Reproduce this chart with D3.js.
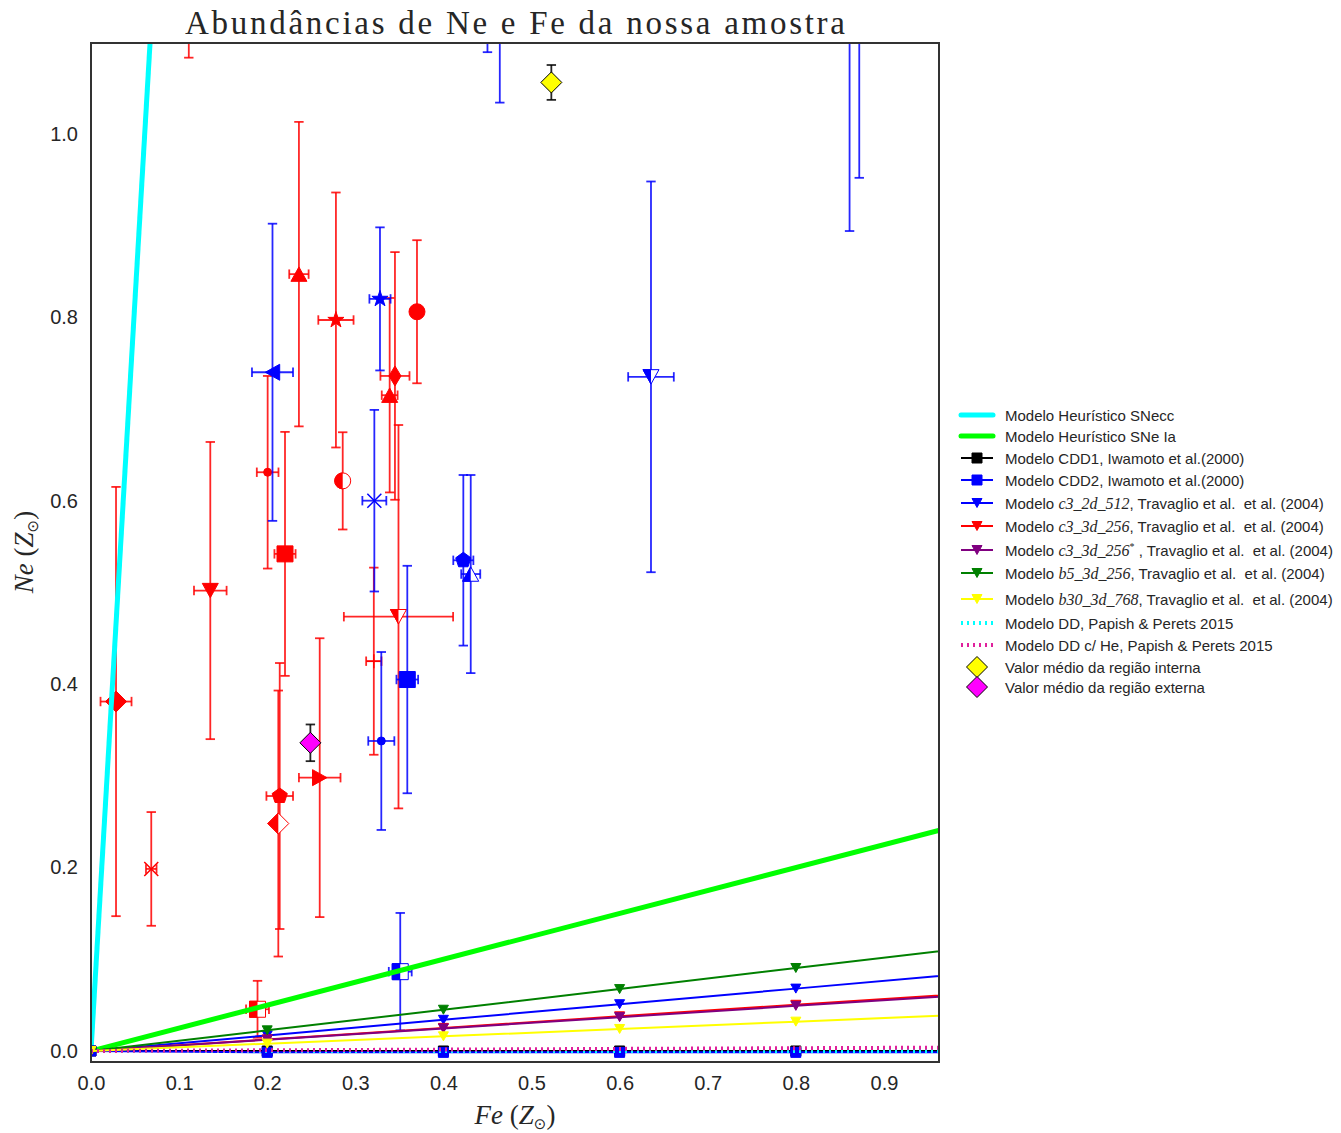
<!DOCTYPE html>
<html>
<head>
<meta charset="utf-8">
<script src="https://cdn.jsdelivr.net/npm/d3@7"></script>
<style>
  body { margin: 0; background: #fff; }
  text { white-space: pre; }
</style>
</head>
<body>
<svg></svg>
<script>
// ---- data ----
const xTicks = [0.0, 0.1, 0.2, 0.3, 0.4, 0.5, 0.6, 0.7, 0.8, 0.9];
const yTicks = [0.0, 0.2, 0.4, 0.6, 0.8, 1.0];

// red sample points
const redFe    = [0.111, 0.236, 0.278, 0.370, 0.345, 0.339, 0.349, 0.2005, 0.2857, 0.2202, 0.1354, 0.0284, 0.0684, 0.2142, 0.2126, 0.2596, 0.189, 0.321];
const redFeErr = [0, 0.011, 0.020, 0, 0.0165, 0.009, 0.062, 0.0123, 0.003, 0.012, 0.0185, 0.0176, 0.006, 0.0151, 0, 0.0236, 0.013, 0.0087];
const redNe    = [1.25, 0.847, 0.797, 0.806, 0.736, 0.715, 0.4735, 0.631, 0.6216, 0.542, 0.502, 0.381, 0.1985, 0.278, 0.248, 0.298, 0.0455, 0.425];
const redNeErr = [0.167, 0.166, 0.139, 0.078, 0.135, 0.106, 0.209, 0.105, 0.053, 0.133, 0.162, 0.234, 0.062, 0.145, 0.145, 0.152, 0.031, 0.102];
const redMarkers = ["h", "^", "*", "o", "d", "^", "v", ".", "o", "s", "v", "D", "x", "p", "D", ">", "s", "+"];
const redFills   = ["full", "full", "full", "full", "full", "full", "left", "full", "left", "full", "full", "full", "full", "full", "left", "full", "left", "full"];

// blue sample points
const blueFe    = [0.45, 0.464, 0.861, 0.872, 0.206, 0.328, 0.3216, 0.4226, 0.431, 0.359, 0.3295, 0.6356, 0.351];
const blueFeErr = [0, 0, 0, 0, 0.0233, 0.012, 0.0136, 0.0114, 0.0108, 0.0123, 0.0148, 0.0259, 0.013];
const blueNe    = [1.25, 1.35, 1.35, 1.30, 0.740, 0.820, 0.600, 0.535, 0.520, 0.405, 0.338, 0.735, 0.0865];
const blueNeErr = [0.161, 0.316, 0.456, 0.348, 0.162, 0.078, 0.099, 0.093, 0.108, 0.124, 0.097, 0.213, 0.064];
const blueMarkers = ["o", "s", "^", "v", "<", "*", "x", "p", "^", "s", ".", "v", "s"];
const blueFills   = ["full", "full", "full", "full", "full", "full", "full", "full", "left", "full", "full", "left", "left"];

// mean values (inner / outer region)
const meanFe    = [0.5225, 0.249];
const meanNe    = [1.056, 0.336];
const meanNeErr = [0.019, 0.020];

// models
const modelFe = [0.0, 0.2, 0.4, 0.6, 0.8, 1.0];
const cdd1Ne  = [0.0, 0.0, 0.0, 0.0, 0.0, 0.0];
const cdd2Ne  = [0.0, -0.0015, -0.0015, -0.0015, -0.0015, -0.0015];
const c3_2d_512Ne  = [0.0, 0.017, 0.034, 0.051, 0.068, 0.085];
const c3_3d_256Ne  = [0.0, 0.0126, 0.0252, 0.0378, 0.0504, 0.063];
const c3_3d_256sNe = [0.0, 0.0123, 0.0246, 0.0369, 0.0492, 0.0615];
const b5_3d_256Ne  = [0.0, 0.0225, 0.045, 0.0675, 0.0905, 0.113];
const b30_3d_768Ne = [0.0, 0.008, 0.016, 0.024, 0.032, 0.040];

const sneccFe = [0.0, 0.1];
const sneccNe = [0.0, 1.64];
const sniaFe  = [0.0, 1.0];
const sniaNe  = [0.0, 0.25];
const papishFe  = [0.0, 1.0];
const ddNe      = [0.0, 0.0];
const ddHeNe    = [0.0, 0.0038];

// ---- layout ----
const width = 1341, height = 1133;
const svg = d3.select("svg").attr("width", width).attr("height", height);
const plot = {left: 91, right: 939, top: 43, bottom: 1062};

const x = d3.scaleLinear().domain([0, 0.9625]).range([plot.left, plot.right]);
const y = d3.scaleLinear().domain([-0.012, 1.099]).range([plot.bottom, plot.top]);

const defs = svg.append("defs");
defs.append("clipPath").attr("id", "plotClip")
    .append("rect")
    .attr("x", plot.left).attr("y", plot.top)
    .attr("width", plot.right - plot.left).attr("height", plot.bottom - plot.top);
defs.append("clipPath").attr("id", "leftHalf")
    .append("rect").attr("x", -40).attr("y", -40).attr("width", 40).attr("height", 80);

// marker shapes, roughly matplotlib's
const markerSize = {"o": 16, ".": 8, "s": 16, "^": 16, "v": 16, "<": 16, ">": 16,
                    "D": 21, "d": 20, "p": 16, "*": 17, "x": 14, "+": 14, "h": 16};

function markerPath(m, s) {
    const r = s / 2;
    const tri = (angle) => {
        const h = s * 0.9 / 2, w = s / 2;
        const pts = [[0, -h], [w, h], [-w, h]].map(([px, py]) => {
            const c = Math.cos(angle), sn = Math.sin(angle);
            return [px * c - py * sn, px * sn + py * c];
        });
        return "M" + pts.map(p => p.join(",")).join("L") + "Z";
    };
    const poly = (n, rad, rot) => {
        const pts = d3.range(n).map(i => {
            const a = rot + i * 2 * Math.PI / n;
            return [rad * Math.sin(a), -rad * Math.cos(a)];
        });
        return "M" + pts.map(p => p.join(",")).join("L") + "Z";
    };
    switch (m) {
        case "o": case ".": case "h":
            return `M${r},0A${r},${r} 0 1,1 ${-r},0A${r},${r} 0 1,1 ${r},0Z`;
        case "s": return `M${-r},${-r}H${r}V${r}H${-r}Z`;
        case "^": return tri(0);
        case "v": return tri(Math.PI);
        case "<": return tri(-Math.PI / 2);
        case ">": return tri(Math.PI / 2);
        case "D": return `M0,${-r}L${r},0L0,${r}L${-r},0Z`;
        case "d": return `M0,${-r}L${r * 0.6},0L0,${r}L${-r * 0.6},0Z`;
        case "p": return poly(5, r, 0);
        case "*": {
            const pts = d3.range(10).map(i => {
                const rad = i % 2 === 0 ? r : r * 0.382;
                const a = i * Math.PI / 5;
                return [rad * Math.sin(a), -rad * Math.cos(a)];
            });
            return "M" + pts.map(p => p.join(",")).join("L") + "Z";
        }
        case "x": return `M${-r},${-r}L${r},${r}M${-r},${r}L${r},${-r}`;
        case "+": return `M${-r},0H${r}M0,${-r}V${r}`;
    }
}

function drawMarker(g, m, fill, color, size, edge) {
    const s = size || markerSize[m];
    const d = markerPath(m, s);
    if (m === "x" || m === "+") {
        g.append("path").attr("d", d).attr("fill", "none")
            .attr("stroke", color).attr("stroke-width", 1.5);
        return;
    }
    if (fill === "left") {
        g.append("path").attr("d", d).attr("fill", "#fff")
            .attr("stroke", color).attr("stroke-width", 1);
        g.append("path").attr("d", d).attr("fill", color)
            .attr("stroke", color).attr("stroke-width", 1)
            .attr("clip-path", "url(#leftHalf)");
    } else {
        g.append("path").attr("d", d).attr("fill", color)
            .attr("stroke", edge || color).attr("stroke-width", 1);
    }
}

function drawErrorPoint(layer, fe, feErr, ne, neErr, m, fill, color, barColor, edge) {
    const cap = 4.7;
    const bars = layer.append("g")
        .attr("stroke", barColor).attr("stroke-width", 1.8)
        .attr("stroke-opacity", 0.85).attr("fill", "none");
    if (neErr > 0) {
        const y0 = y(ne - neErr), y1 = y(ne + neErr), cx = x(fe);
        bars.append("line").attr("x1", cx).attr("x2", cx).attr("y1", y0).attr("y2", y1);
        bars.append("line").attr("x1", cx - cap).attr("x2", cx + cap).attr("y1", y0).attr("y2", y0);
        bars.append("line").attr("x1", cx - cap).attr("x2", cx + cap).attr("y1", y1).attr("y2", y1);
    }
    if (feErr > 0) {
        const x0 = x(fe - feErr), x1 = x(fe + feErr), cy = y(ne);
        bars.append("line").attr("x1", x0).attr("x2", x1).attr("y1", cy).attr("y2", cy);
        bars.append("line").attr("x1", x0).attr("x2", x0).attr("y1", cy - cap).attr("y2", cy + cap);
        bars.append("line").attr("x1", x1).attr("x2", x1).attr("y1", cy - cap).attr("y2", cy + cap);
    }
    const g = layer.append("g").attr("transform", `translate(${x(fe)},${y(ne)})`);
    drawMarker(g, m, fill, color, null, edge);
}

const dataLayer = svg.append("g").attr("clip-path", "url(#plotClip)");

// sample points
redFe.forEach((fe, i) => drawErrorPoint(dataLayer, fe, redFeErr[i], redNe[i], redNeErr[i],
    redMarkers[i], redFills[i], "#ff0000", "#ff0000"));
blueFe.forEach((fe, i) => drawErrorPoint(dataLayer, fe, blueFeErr[i], blueNe[i], blueNeErr[i],
    blueMarkers[i], blueFills[i], "#0000ff", "#0000ff"));

// model lines
const line = d3.line().x(d => x(d[0])).y(d => y(d[1]));
const zip = (a, b) => a.map((v, i) => [v, b[i]]);

const models = [
    {label: "snecc", fe: sneccFe, ne: sneccNe, color: "#00ffff", w: 5, marker: null},
    {label: "snia", fe: sniaFe, ne: sniaNe, color: "#00ff00", w: 5, marker: null},
    {label: "cdd1", fe: modelFe, ne: cdd1Ne, color: "#000000", w: 2, marker: "s"},
    {label: "cdd2", fe: modelFe, ne: cdd2Ne, color: "#0000ff", w: 2, marker: "s"},
    {label: "c3_2d", fe: modelFe, ne: c3_2d_512Ne, color: "#0000ff", w: 2, marker: "v"},
    {label: "c3_3d", fe: modelFe, ne: c3_3d_256Ne, color: "#ff0000", w: 2, marker: "v"},
    {label: "c3_3ds", fe: modelFe, ne: c3_3d_256sNe, color: "#800080", w: 2, marker: "v"},
    {label: "b5", fe: modelFe, ne: b5_3d_256Ne, color: "#008000", w: 2, marker: "v"},
    {label: "b30", fe: modelFe, ne: b30_3d_768Ne, color: "#ffff00", w: 2, marker: "v"},
    {label: "dd", fe: papishFe, ne: ddNe, color: "#00ffff", w: 4, dash: "2,4", marker: null},
    {label: "ddhe", fe: papishFe, ne: ddHeNe, color: "#e0209c", w: 4, dash: "2,4", marker: null}
];

const modelLayer = svg.append("g").attr("clip-path", "url(#plotClip)");
models.forEach(md => {
    modelLayer.append("path")
        .datum(zip(md.fe, md.ne))
        .attr("d", line)
        .attr("fill", "none")
        .attr("stroke", md.color)
        .attr("stroke-width", md.w)
        .attr("stroke-dasharray", md.dash || null);
    if (md.marker) {
        zip(md.fe, md.ne).forEach(p => {
            const g = modelLayer.append("g").attr("transform", `translate(${x(p[0])},${y(p[1])})`);
            drawMarker(g, md.marker, "full", md.color, 10);
        });
    }
});

// mean values, on top of everything in the plot
const meanColors = ["#ffff00", "#ff00ff"];
const meanLayer = svg.append("g").attr("clip-path", "url(#plotClip)");
meanFe.forEach((fe, i) => drawErrorPoint(meanLayer, fe, 0, meanNe[i], meanNeErr[i],
    "D", "full", meanColors[i], "#000000", "#000000"));

// ---- axes ----
const tickFont = "'Liberation Sans', Arial, sans-serif";
const xAxis = svg.append("g")
    .attr("transform", `translate(0,${plot.bottom})`)
    .call(d3.axisBottom(x).tickValues(xTicks).tickFormat(d3.format(".1f")).tickSize(0).tickPadding(14));
const yAxis = svg.append("g")
    .attr("transform", `translate(${plot.left},0)`)
    .call(d3.axisLeft(y).tickValues(yTicks).tickFormat(d3.format(".1f")).tickSize(0).tickPadding(13));
[xAxis, yAxis].forEach(a => {
    a.select(".domain").remove();
    a.selectAll("text").style("font-family", tickFont).style("font-size", "20px").attr("fill", "#262626");
});

// frame
svg.append("rect")
    .attr("x", plot.left).attr("y", plot.top)
    .attr("width", plot.right - plot.left).attr("height", plot.bottom - plot.top)
    .attr("fill", "none").attr("stroke", "#333").attr("stroke-width", 2);

// title
const serif = "'Liberation Serif', 'Times New Roman', serif";
svg.append("text")
    .attr("x", (plot.left + plot.right) / 2).attr("y", 34)
    .attr("text-anchor", "middle")
    .attr("textLength", 660).attr("lengthAdjust", "spacing")
    .style("font-family", serif).style("font-size", "33px").attr("fill", "#262626")
    .text("Abundâncias de Ne e Fe da nossa amostra");

// axis labels
function mathLabel(sel, name) {
    sel.append("tspan").style("font-style", "italic").text(name);
    sel.append("tspan").text(" (");
    sel.append("tspan").style("font-style", "italic").text("Z");
    sel.append("tspan").attr("dy", 5).style("font-size", "15px").style("font-family", "'DejaVu Sans', sans-serif").text("⊙");
    sel.append("tspan").attr("dy", -5).text(")");
}
const xl = svg.append("text")
    .attr("x", (plot.left + plot.right) / 2).attr("y", 1124)
    .attr("text-anchor", "middle")
    .style("font-family", serif).style("font-size", "27px").attr("fill", "#262626");
mathLabel(xl, "Fe");
const yl = svg.append("text")
    .attr("transform", "translate(33,552) rotate(-90)")
    .attr("text-anchor", "middle")
    .style("font-family", serif).style("font-size", "27px").attr("fill", "#262626");
mathLabel(yl, "Ne");

// ---- legend ----
const legendRows = [415, 436, 458, 480, 503, 526, 550, 573, 599, 623, 645, 667, 687];
const legendItems = [
    {model: 0, parts: [["Modelo Heurístico SNecc"]]},
    {model: 1, parts: [["Modelo Heurístico SNe Ia"]]},
    {model: 2, parts: [["Modelo CDD1, Iwamoto et al.(2000)"]]},
    {model: 3, parts: [["Modelo CDD2, Iwamoto et al.(2000)"]]},
    {model: 4, parts: [["Modelo "], ["c3_2d_512", "m"], [", Travaglio et al.  et al. (2004)"]]},
    {model: 5, parts: [["Modelo "], ["c3_3d_256", "m"], [", Travaglio et al.  et al. (2004)"]]},
    {model: 6, parts: [["Modelo "], ["c3_3d_256", "m"], ["*", "sup"], [" , Travaglio et al.  et al. (2004)"]]},
    {model: 7, parts: [["Modelo "], ["b5_3d_256", "m"], [", Travaglio et al.  et al. (2004)"]]},
    {model: 8, parts: [["Modelo "], ["b30_3d_768", "m"], [", Travaglio et al.  et al. (2004)"]]},
    {model: 9, parts: [["Modelo DD, Papish & Perets 2015"]]},
    {model: 10, parts: [["Modelo DD c/ He, Papish & Perets 2015"]]},
    {mean: 0, parts: [["Valor médio da região interna"]]},
    {mean: 1, parts: [["Valor médio da região externa"]]}
];

const legend = svg.append("g");
legendItems.forEach((item, i) => {
    const cy = legendRows[i];
    if (item.model !== undefined) {
        const md = models[item.model];
        legend.append("line")
            .attr("x1", 961).attr("x2", 993).attr("y1", cy).attr("y2", cy)
            .attr("stroke", md.color).attr("stroke-width", md.w)
            .attr("stroke-linecap", md.w === 5 ? "round" : "butt")
            .attr("stroke-dasharray", md.dash || null);
        if (md.marker) {
            const g = legend.append("g").attr("transform", `translate(977,${cy})`);
            drawMarker(g, md.marker, "full", md.color, 10);
        }
    } else {
        const g = legend.append("g").attr("transform", `translate(977,${cy})`);
        drawMarker(g, "D", "full", meanColors[item.mean], 21, "#000");
    }
    const t = legend.append("text")
        .attr("x", 1005).attr("y", cy + 5.5)
        .style("font-family", tickFont).style("font-size", "15px").attr("fill", "#262626");
    item.parts.forEach(([s, kind]) => {
        const sp = t.append("tspan").text(s);
        if (kind === "m") sp.style("font-family", serif).style("font-style", "italic").style("font-size", "16px");
        if (kind === "sup") sp.attr("dy", -6).style("font-size", "10px").style("font-family", serif);
        if (kind === undefined && item.parts.length > 1 && s.startsWith(" ,")) sp.attr("dy", 6);
    });
});
</script>
</body>
</html>
